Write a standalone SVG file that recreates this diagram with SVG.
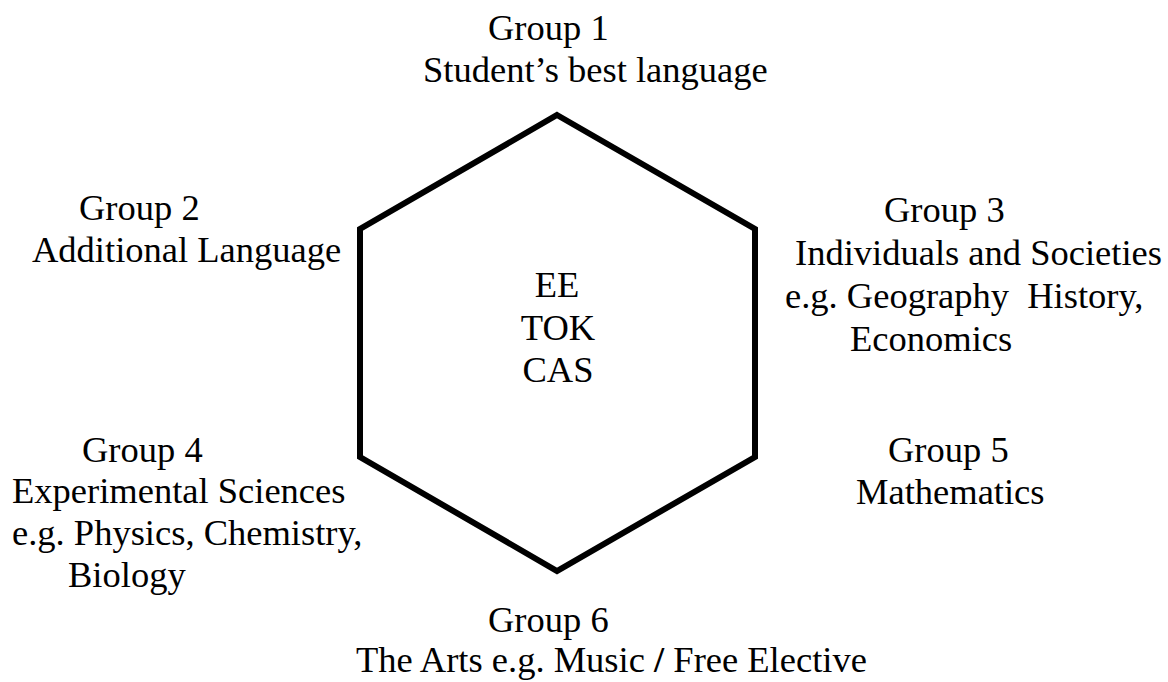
<svg xmlns="http://www.w3.org/2000/svg" width="1168" height="682" viewBox="0 0 1168 682">
<style>
text { font-family: "Liberation Serif", "Times New Roman", serif; font-size: 36.5px; fill: #000; }
.hex { fill: none; stroke: #000; stroke-width: 6; stroke-linejoin: miter; }
</style>
<rect width="1168" height="682" fill="#fff"/>
<g id="hexagon">
<polygon class="hex" points="557,115 755,229 755,457 557,571 360,457 360,229"/>
<text x="557" y="297" text-anchor="middle">EE</text>
<text x="558" y="340" text-anchor="middle">TOK</text>
<text x="558" y="382" text-anchor="middle">CAS</text>
</g>
<g id="group1">
<text x="488" y="40">Group 1</text>
<text x="423" y="82">Student’s best language</text>
</g>
<g id="group2">
<text x="79" y="220">Group 2</text>
<text x="32" y="262">Additional Language</text>
</g>
<g id="group3">
<text x="884" y="222">Group 3</text>
<text x="795" y="265">Individuals and Societies</text>
<text x="785" y="308">e.g. Geography&#160; History,</text>
<text x="850" y="351">Economics</text>
</g>
<g id="group4">
<text x="82" y="462">Group 4</text>
<text x="12" y="503">Experimental Sciences</text>
<text x="12" y="545">e.g. Physics, Chemistry,</text>
<text x="68" y="587">Biology</text>
</g>
<g id="group5">
<text x="888" y="462">Group 5</text>
<text x="856" y="504">Mathematics</text>
</g>
<g id="group6">
<text x="488" y="632">Group 6</text>
<text x="356" y="672">The Arts e.g. Music <tspan font-weight="bold">/</tspan> Free Elective</text>
</g>
<g id="connectors"></g>
</svg>
